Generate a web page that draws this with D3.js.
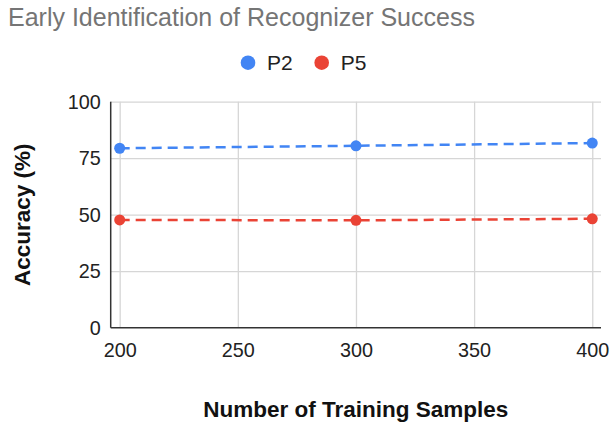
<!DOCTYPE html>
<html>
<head>
<meta charset="utf-8">
<script src="https://cdn.jsdelivr.net/npm/d3@7"></script>
<style>
  body { margin: 0; background: #fff; }
  svg { font-family: Arial, "Liberation Sans", sans-serif; }
</style>
</head>
<body>
<svg width="610" height="423"></svg>
<script>
// data
const samples = [200, 300, 400];
const p2 = [79.4, 80.5, 81.7];
const p5 = [47.7, 47.5, 48.2];
const seriesNames = ['P2', 'P5'];
const seriesColors = ['#4285f4', '#ea4335'];
const xTicks = [200, 250, 300, 350, 400];
const yTicks = [0, 25, 50, 75, 100];

const svg = d3.select('svg');
const margin = { top: 101.7, right: 9, bottom: 95.3, left: 110.7 };
const width = +svg.attr('width') - margin.left - margin.right;
const height = +svg.attr('height') - margin.top - margin.bottom;

const x = d3.scaleLinear().domain([196.2, 403.7]).range([0, width]);
const y = d3.scaleLinear().domain([0, 100]).range([height, 0]);

// title
svg.append('text')
  .attr('x', 8).attr('y', 26)
  .attr('font-size', 25).attr('fill', '#757575')
  .text('Early Identification of Recognizer Success');

// legend
const legend = svg.append('g');
const legendX = [248, 321.7];
seriesNames.forEach((n, i) => {
  legend.append('circle')
    .attr('cx', legendX[i]).attr('cy', 62.7).attr('r', 7.3)
    .attr('fill', seriesColors[i]);
  legend.append('text')
    .attr('x', legendX[i] + 19).attr('y', 69.8)
    .attr('font-size', 21).attr('fill', '#222')
    .text(n);
});

const g = svg.append('g')
  .attr('transform', `translate(${margin.left},${margin.top})`);

// grid
g.append('g')
  .attr('class', 'x grid')
  .attr('transform', `translate(0,${height})`)
  .call(d3.axisBottom(x).tickValues(xTicks).tickSize(-height).tickFormat(() => ''))
  .call(a => a.select('.domain').remove())
  .call(a => a.selectAll('.tick line').attr('stroke', '#d6d6d6').attr('stroke-width', 1.3));

g.append('g')
  .attr('class', 'y grid')
  .call(d3.axisLeft(y).tickValues(yTicks.slice(1)).tickSize(-width).tickFormat(() => ''))
  .call(a => a.select('.domain').remove())
  .call(a => a.selectAll('.tick line').attr('stroke', '#d6d6d6').attr('stroke-width', 1.3));

// tick labels
g.append('g')
  .attr('class', 'x axis')
  .attr('transform', `translate(0,${height})`)
  .call(d3.axisBottom(x).tickValues(xTicks).tickSize(0).tickPadding(15.5))
  .call(a => a.select('.domain').remove())
  .call(a => a.selectAll('.tick text').attr('font-size', 19.8).attr('fill', '#222').attr('font-family', null));

g.append('g')
  .attr('class', 'y axis')
  .call(d3.axisLeft(y).tickValues(yTicks).tickSize(0).tickPadding(10))
  .call(a => a.select('.domain').remove())
  .call(a => a.selectAll('.tick text').attr('font-size', 19.8).attr('fill', '#222').attr('font-family', null));

// axis lines
g.append('line')
  .attr('x1', 0).attr('x2', 0).attr('y1', 0).attr('y2', height)
  .attr('stroke', '#333').attr('stroke-width', 1.5);
g.append('line')
  .attr('x1', 0).attr('x2', width).attr('y1', height).attr('y2', height)
  .attr('stroke', '#333').attr('stroke-width', 1.5);

// series
const series = [p2, p5];
const line = d3.line()
  .x((d, i) => x(samples[i]))
  .y(d => y(d));

series.forEach((vals, s) => {
  g.append('path')
    .datum(vals)
    .attr('fill', 'none')
    .attr('stroke', seriesColors[s])
    .attr('stroke-width', 2.5)
    .attr('stroke-dasharray', '10,6')
    .attr('d', line);

  g.selectAll(`circle.s${s}`)
    .data(vals)
    .enter()
    .append('circle')
    .attr('class', `s${s}`)
    .attr('cx', (d, i) => x(samples[i]))
    .attr('cy', d => y(d))
    .attr('r', 5.5)
    .attr('fill', seriesColors[s]);
});

// axis titles
svg.append('text')
  .attr('x', margin.left + width / 2).attr('y', 416.5)
  .attr('text-anchor', 'middle')
  .attr('font-size', 22.5).attr('font-weight', 'bold').attr('fill', '#111')
  .text('Number of Training Samples');

svg.append('text')
  .attr('transform', `translate(30,${margin.top + height / 2}) rotate(-90)`)
  .attr('text-anchor', 'middle')
  .attr('font-size', 22.5).attr('font-weight', 'bold').attr('fill', '#111')
  .text('Accuracy (%)');
</script>
</body>
</html>
